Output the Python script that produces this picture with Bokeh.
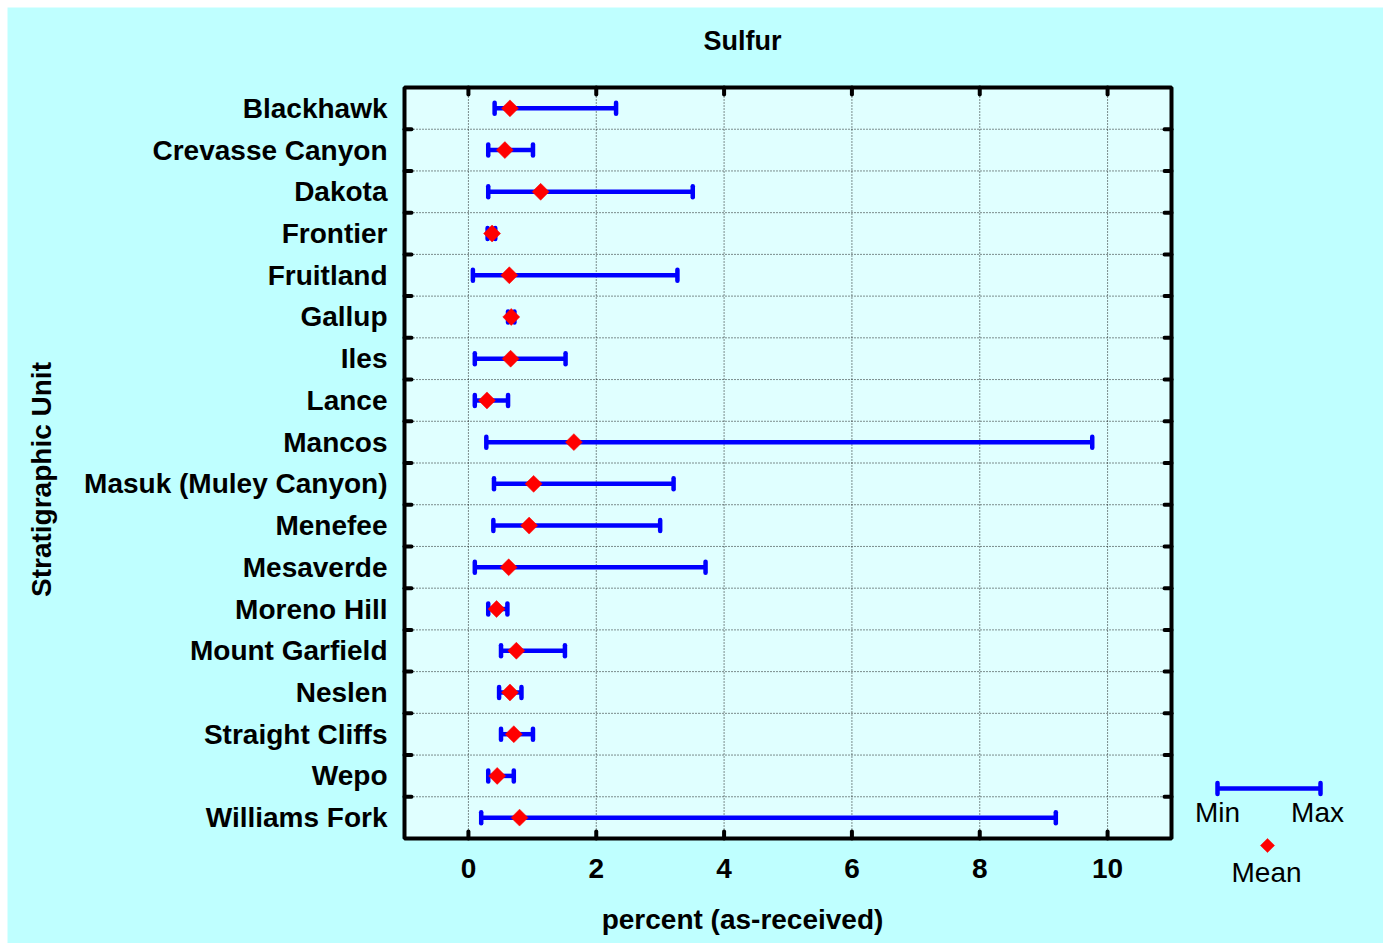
import numpy as np
from bokeh.plotting import figure
from bokeh.models import Range1d, ColumnDataSource
from bokeh.embed import file_html
from bokeh.resources import INLINE
from bokeh.core.properties import value

# Sulfur content (percent, as-received) by stratigraphic unit
units = ["Blackhawk", "Crevasse Canyon", "Dakota", "Frontier", "Fruitland", "Gallup",
         "Iles", "Lance", "Mancos", "Masuk (Muley Canyon)", "Menefee", "Mesaverde",
         "Moreno Hill", "Mount Garfield", "Neslen", "Straight Cliffs", "Wepo", "Williams Fork"]
s_min = [0.41, 0.31, 0.31, 0.30, 0.07, 0.62, 0.10, 0.10, 0.28, 0.40,
         0.39, 0.10, 0.31, 0.51, 0.48, 0.51, 0.31, 0.20]
s_max = [2.31, 1.01, 3.51, 0.42, 3.27, 0.72, 1.52, 0.62, 9.76, 3.21,
         3.00, 3.71, 0.61, 1.51, 0.83, 1.01, 0.71, 9.19]
s_mean = [0.65, 0.57, 1.13, 0.37, 0.64, 0.67, 0.66, 0.29, 1.65, 1.02,
          0.95, 0.63, 0.44, 0.75, 0.65, 0.71, 0.45, 0.80]
x_ticks = [0, 2, 4, 6, 8, 10]
x_lo, x_hi = -1, 11

BG = "#bfffff"
PLOT_BG = "#e0ffff"
BLUE = "#0000ff"
RED = "#ff0000"
FONT = value("Liberation Sans")

n = len(units)
ypos = [n - i for i in range(n)]          # first unit at the top
between = [i + 0.5 for i in range(1, n)]
y_lo, y_hi = 0.5, n + 0.5

# page layout (pixels): canvas offset and the boxed plotting area
PAD = 7
W, H = 1376, 936
BOX_L, BOX_R, BOX_T, BOX_B = 404, 1171, 87, 838


def dx(px):
    return x_lo + (px - BOX_L) * (x_hi - x_lo) / (BOX_R - BOX_L)


def dy(py):
    return y_hi - (py - BOX_T) * (y_hi - y_lo) / (BOX_B - BOX_T)


ROW = (BOX_B - BOX_T) / (y_hi - y_lo)      # pixels per category
cap = 5.5 / ROW

p = figure(width=W, height=H, margin=(PAD, PAD, PAD, PAD), title=None,
           x_range=Range1d(dx(PAD), dx(PAD + W)), y_range=Range1d(dy(PAD + H), dy(PAD)),
           x_axis_location=None, y_axis_location=None,
           output_backend="svg", toolbar_location=None, min_border=0,
           background_fill_color=BG, border_fill_color=BG, outline_line_color=None)
p.grid.visible = False

# plotting box
p.quad(left=[x_lo], right=[x_hi], bottom=[y_lo], top=[y_hi],
       fill_color=PLOT_BG, line_color=None)

# dotted grid
grid_kw = dict(line_color="black", line_width=1, line_dash="1 2", line_alpha=0.9)
p.segment(x0=[x_lo] * len(between), x1=[x_hi] * len(between), y0=between, y1=between,
          **grid_kw)
p.segment(x0=x_ticks, x1=x_ticks, y0=[y_lo] * len(x_ticks), y1=[y_hi] * len(x_ticks),
          **grid_kw)

# error bars: min to max with end caps, mean as diamond
src = ColumnDataSource(dict(
    y=ypos, lo=s_min, hi=s_max, mean=s_mean,
    ylo=[y - cap for y in ypos], yhi=[y + cap for y in ypos],
))
p.segment(x0="lo", y0="y", x1="hi", y1="y", source=src, line_width=4.5, line_color=BLUE)
p.segment(x0="lo", y0="ylo", x1="lo", y1="yhi", source=src,
          line_width=4.5, line_color=BLUE, line_cap="round")
p.segment(x0="hi", y0="ylo", x1="hi", y1="yhi", source=src,
          line_width=4.5, line_color=BLUE, line_cap="round")
p.scatter(x="mean", y="y", source=src, marker="square", angle=45, angle_units="deg",
          size=12, fill_color=RED, line_color=RED, line_width=0.5)

# inward tick marks on all four sides
tick_kw = dict(length=7, length_units="screen", line_width=4,
               line_color="black", line_cap="round")
p.ray(x=[x_lo] * len(between), y=between, angle=0, **tick_kw)
p.ray(x=[x_hi] * len(between), y=between, angle=np.pi, **tick_kw)
p.ray(x=x_ticks, y=[y_hi] * len(x_ticks), angle=-np.pi / 2, **tick_kw)
p.ray(x=x_ticks, y=[y_lo] * len(x_ticks), angle=np.pi / 2, **tick_kw)

# box frame
p.quad(left=[x_lo], right=[x_hi], bottom=[y_lo], top=[y_hi],
       fill_color=None, line_color="black", line_width=4)

bold = dict(text_font=FONT, text_font_style="bold", text_font_size="28px",
            text_color="black", text_baseline="middle")

# category labels
p.text(x=[dx(387)] * n, y=ypos, text=units, text_align="right", **bold)
# x tick labels
p.text(x=x_ticks, y=[dy(868)] * len(x_ticks), text=[str(t) for t in x_ticks],
       text_align="center", **bold)
# axis titles and chart title
p.text(x=[dx(742)], y=[dy(919)], text=["percent (as-received)"], text_align="center", **bold)
p.text(x=[dx(41)], y=[dy(479)], text=["Stratigraphic Unit"], text_align="center",
       angle=np.pi / 2, **bold)
p.text(x=[dx(742)], y=[dy(40)], text=["Sulfur"], text_align="center",
       **{**bold, "text_font_size": "27px"})

# key: min-max bar and mean marker
kx0, kx1, ky = dx(1217), dx(1320), dy(788)
p.segment(x0=[kx0], y0=[ky], x1=[kx1], y1=[ky], line_width=4.5, line_color=BLUE)
p.segment(x0=[kx0, kx1], y0=[ky - cap] * 2, x1=[kx0, kx1], y1=[ky + cap] * 2,
          line_width=4.5, line_color=BLUE, line_cap="round")
p.scatter(x=[dx(1267)], y=[dy(845)], marker="square", angle=45, angle_units="deg",
          size=10, fill_color=RED, line_color=RED, line_width=0.5)
p.text(x=[dx(1217), dx(1317), dx(1266)], y=[dy(812), dy(812), dy(872)],
       text=["Min", "Max", "Mean"], text_align="center", text_baseline="middle",
       text_font=FONT, text_font_size="28px", text_color="black")

with open("out.html", "w") as f:
    f.write(file_html(p, INLINE))
